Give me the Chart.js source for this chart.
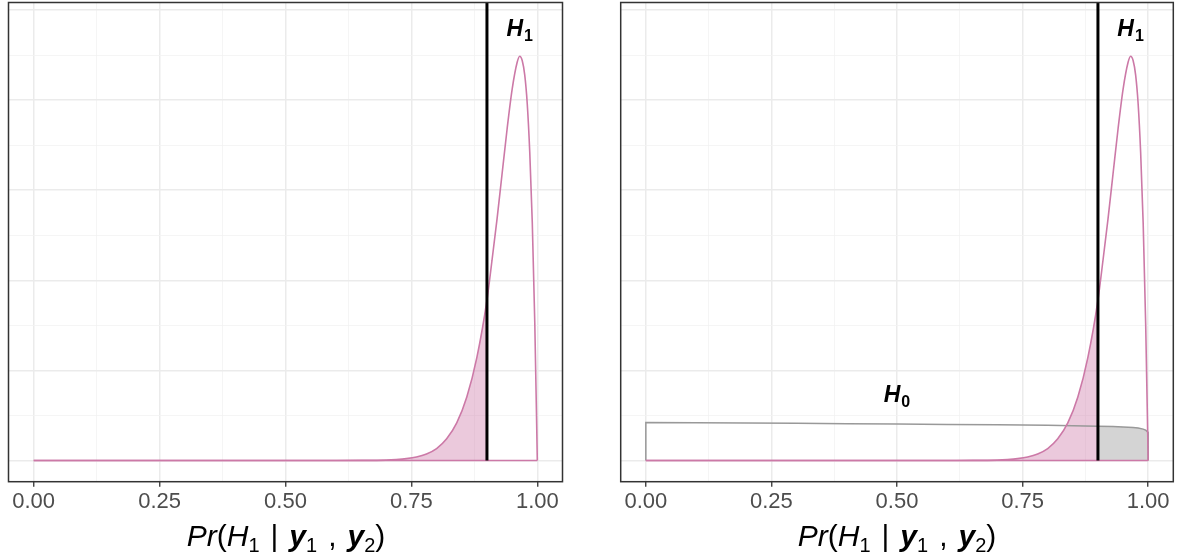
<!DOCTYPE html>
<html>
<head>
<meta charset="utf-8">
<script src="https://cdn.jsdelivr.net/npm/chart.js@4/dist/chart.umd.min.js"></script>
<style>
  html, body { margin: 0; padding: 0; background: #ffffff; }
  #wrap { position: relative; width: 1180px; height: 559px; overflow: hidden; }
  .pane { position: absolute; top: 0; width: 590px; height: 559px; }
  .xtitle {
    position: absolute; top: 519px; width: 590px; text-align: center;
    font-family: "Liberation Sans", Arial, sans-serif; font-size: 30px; color: #000;
    white-space: nowrap; line-height: 34px;
  }
  .xtitle i { font-style: italic; }
  .xtitle sub { font-size: 20px; vertical-align: -6px; font-style: normal; line-height: 0; }
  .xtitle .gap { display: inline-block; width: 11px; }
</style>
</head>
<body>
<div id="wrap">
  <div class="pane" style="left:0"><canvas id="left" width="590" height="559"></canvas></div>
  <div class="pane" style="left:590px"><canvas id="right" width="590" height="559"></canvas></div>
  <div class="xtitle" style="left:-9px"><i>Pr</i>(<i>H</i><sub>1</sub><span class="gap"></span>|<span class="gap"></span><b><i>y</i></b><sub>1</sub><span class="gap"></span>,<span class="gap"></span><b><i>y</i></b><sub>2</sub>)</div>
  <div class="xtitle" style="left:602px"><i>Pr</i>(<i>H</i><sub>1</sub><span class="gap"></span>|<span class="gap"></span><b><i>y</i></b><sub>1</sub><span class="gap"></span>,<span class="gap"></span><b><i>y</i></b><sub>2</sub>)</div>
</div>
<script>
// Posterior density of Pr(H1 | y1, y2) under H1
const h1X = [0, 0.5, 0.6, 0.65, 0.7, 0.72, 0.74, 0.76, 0.78, 0.8, 0.82, 0.84, 0.86, 0.88, 0.9,
             0.91, 0.92, 0.93, 0.94, 0.95, 0.96, 0.965, 0.97, 0.975, 0.98, 0.985, 0.99, 0.995, 1.0];
const h1Y = [0, 0, 0, 0.001, 0.01, 0.025, 0.05, 0.095, 0.18, 0.33, 0.6, 1.04, 1.76, 2.86, 4.45,
             5.55, 6.7, 7.95, 9.2, 10.3, 11.05, 11.22, 11.1, 10.7, 9.9, 8.55, 6.6, 3.8, 0];

// Density of the same quantity under H0
const h0X = [0, 0.1, 0.2, 0.3, 0.4, 0.5, 0.6, 0.7, 0.8, 0.85, 0.9, 0.93, 0.95, 0.97, 0.98, 0.99, 0.995, 1.0];
const h0Y = [1.05, 1.045, 1.04, 1.03, 1.02, 1.01, 1.0, 0.99, 0.975, 0.965, 0.95, 0.94, 0.93, 0.915, 0.9, 0.87, 0.84, 0.78];

// Decision threshold
const threshold = 0.9;

// Axis breaks and labels
const xBreaks = [0, 0.25, 0.5, 0.75, 1];
const xLabels = ['0.00', '0.25', '0.50', '0.75', '1.00'];
const yBreaks = [0, 2.5, 5, 7.5, 10, 12.5];
const xLimits = [-0.05, 1.05];
const yLimits = [-0.59, 12.71];

// Curve labels
const labelH1 = { x: 0.965, y: 12.0, sub: '1' };
const labelH0 = { x: 0.5, y: 1.85, sub: '0' };

const PINK = '#cc79a7';
const PINK_FILL = 'rgba(204,121,167,0.4)';
const GREY = '#999999';
const GREY_FILL = 'rgba(160,160,160,0.45)';

const pts = (xs, ys) => xs.map((x, i) => ({ x, y: ys[i] }));
const withMinor = (b) => {
  const out = [];
  b.forEach((v, i) => { out.push(v); if (i < b.length - 1) out.push((v + b[i + 1]) / 2); });
  return out;
};
const isMajor = (arr, v) => arr.some(b => Math.abs(b - v) < 1e-9);

const frameAndLabels = (labels) => ({
  id: 'frameAndLabels',
  afterDatasetsDraw(chart) {
    const { ctx, chartArea: a, scales } = chart;
    ctx.save();
    ctx.strokeStyle = '#333333';
    ctx.lineWidth = 1.5;
    ctx.strokeRect(a.left, a.top, a.right - a.left, a.bottom - a.top);
    labels.forEach(l => {
      const px = scales.x.getPixelForValue(l.x);
      const py = scales.y.getPixelForValue(l.y);
      ctx.fillStyle = '#000000';
      ctx.textBaseline = 'alphabetic';
      const mainFont = 'italic bold 23px "Liberation Sans", Arial, sans-serif';
      const subFont = 'bold 16px "Liberation Sans", Arial, sans-serif';
      ctx.font = mainFont;
      const w1 = ctx.measureText('H').width;
      ctx.font = subFont;
      const w2 = ctx.measureText(l.sub).width;
      const x0 = px - (w1 + w2 + 1) / 2;
      ctx.font = mainFont;
      ctx.textAlign = 'left';
      ctx.fillText('H', x0, py + 8);
      ctx.font = subFont;
      ctx.fillText(l.sub, x0 + w1 + 1, py + 13);
    });
    ctx.restore();
  }
});

function makeChart(id, withH0, pad) {
  const fillPts = pts(h1X, h1Y).filter(p => p.x <= threshold);
  const datasets = [
    { data: fillPts, borderWidth: 0, backgroundColor: PINK_FILL, fill: 'origin',
      cubicInterpolationMode: 'monotone', order: 10 }
  ];
  if (withH0) {
    const tail = pts(h0X, h0Y).filter(p => p.x >= threshold);
    const outline = [{ x: h0X[0], y: 0 }, ...pts(h0X, h0Y), { x: h0X[h0X.length - 1], y: 0 }];
    datasets.push(
      { data: tail, borderWidth: 0, backgroundColor: GREY_FILL, fill: 'origin', tension: 0, order: 9 },
      { data: outline, borderColor: GREY, borderWidth: 1.5, fill: false, tension: 0, order: 8 }
    );
  }
  datasets.push(
    { data: [{ x: h1X[0], y: 0 }, { x: h1X[h1X.length - 1], y: 0 }], borderColor: PINK,
      borderWidth: 1.6, fill: false, tension: 0, order: 6 },
    { data: pts(h1X, h1Y), borderColor: PINK, borderWidth: 1.6, fill: false,
      cubicInterpolationMode: 'monotone', order: 5 },
    { data: [{ x: threshold, y: 0 }, { x: threshold, y: yLimits[1] }], borderColor: '#000000',
      borderWidth: 3, fill: false, tension: 0, order: 1 }
  );

  const xTicks = withMinor(xBreaks);
  const yTicks = withMinor(yBreaks);

  return new Chart(document.getElementById(id), {
    type: 'line',
    data: { datasets },
    options: {
      responsive: false,
      animation: false,
      events: [],
      elements: { point: { radius: 0 } },
      layout: { padding: pad },
      plugins: { legend: { display: false }, tooltip: { enabled: false }, title: { display: false } },
      scales: {
        x: {
          type: 'linear', min: xLimits[0], max: xLimits[1],
          afterBuildTicks: (s) => { s.ticks = xTicks.map(v => ({ value: v })); },
          afterFit: (s) => { s.height = 77.3; },
          ticks: {
            autoSkip: false, maxRotation: 0, padding: 2, color: '#4d4d4d',
            font: { family: '"Liberation Sans", Arial, sans-serif', size: 22 },
            callback: (v) => { const i = xBreaks.findIndex(b => Math.abs(b - v) < 1e-9); return i >= 0 ? xLabels[i] : ''; }
          },
          grid: {
            color: (c) => isMajor(xBreaks, c.tick.value) ? '#ebebeb' : '#f2f2f2',
            lineWidth: (c) => isMajor(xBreaks, c.tick.value) ? 1.5 : 0.8,
            tickColor: (c) => isMajor(xBreaks, c.tick.value) ? '#333333' : 'rgba(0,0,0,0)',
            tickLength: 5, tickWidth: 1.3, drawTicks: true
          },
          border: { display: false }
        },
        y: {
          type: 'linear', min: yLimits[0], max: yLimits[1],
          afterBuildTicks: (s) => { s.ticks = yTicks.map(v => ({ value: v })); },
          afterFit: (s) => { s.width = 0; },
          ticks: { display: false },
          grid: {
            color: (c) => isMajor(yBreaks, c.tick.value) ? '#ebebeb' : '#f2f2f2',
            lineWidth: (c) => isMajor(yBreaks, c.tick.value) ? 1.5 : 0.8,
            drawTicks: false
          },
          border: { display: false }
        }
      }
    },
    plugins: [frameAndLabels(withH0 ? [labelH1, labelH0] : [labelH1])]
  });
}

makeChart('left', false, { left: 8.5, right: 27.5, top: 2.5, bottom: 0 });
makeChart('right', true, { left: 30.7, right: 6.7, top: 2.5, bottom: 0 });
</script>
</body>
</html>
